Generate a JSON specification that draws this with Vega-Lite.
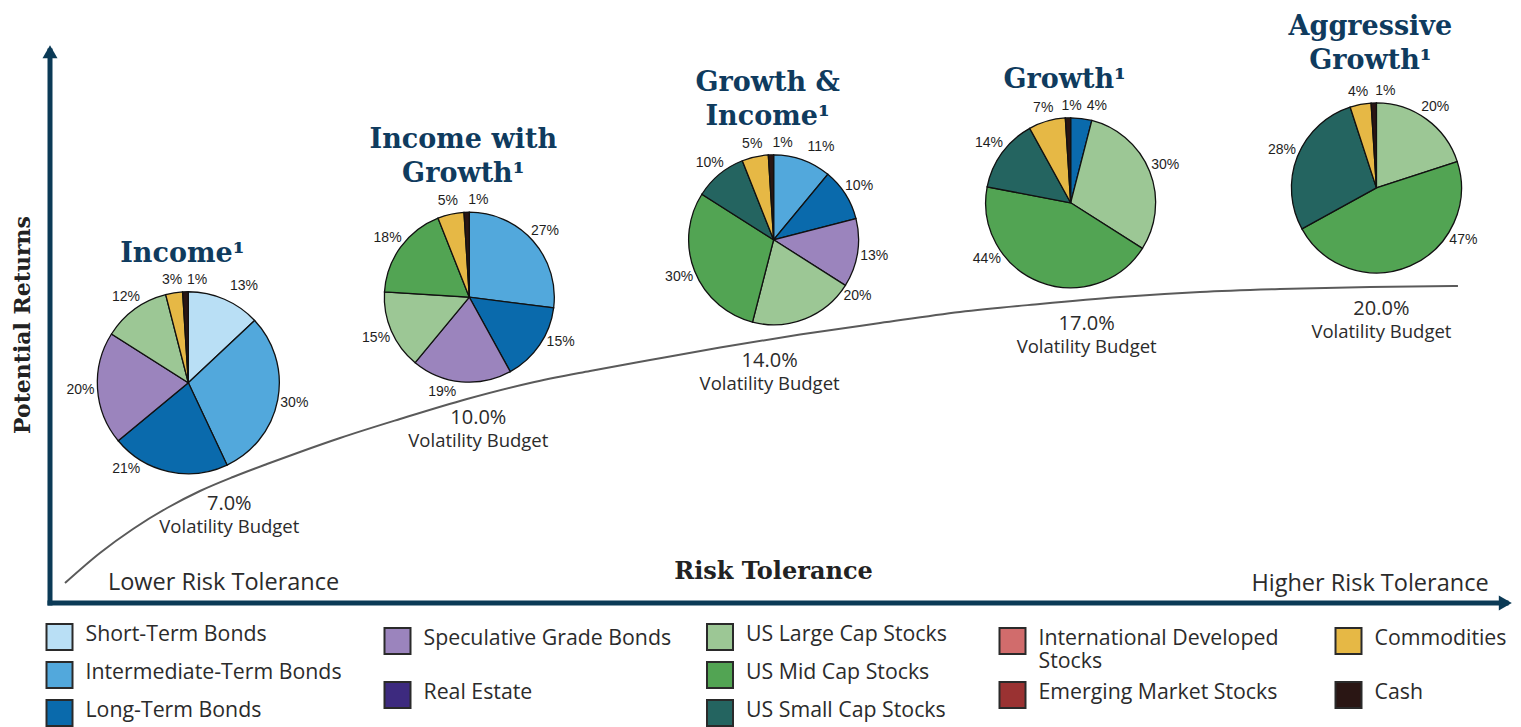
{
  "$schema": "https://vega.github.io/schema/vega-lite/v6.json",
  "width": 1521,
  "height": 727,
  "autosize": {"type": "none"},
  "padding": 0,
  "background": "#ffffff",
  "config": {"view": {"stroke": null}, "axis": {"disable": true}, "legend": {"disable": true}},
  "datasets": {
    "portfolios": [
      {"portfolio": "Income", "t1": "", "t2": "Income¹", "vol": 0.07, "risk": 9.5, "ret": 39.9},
      {"portfolio": "Income with Growth", "t1": "Income with", "t2": "Growth¹", "vol": 0.10, "risk": 28.8, "ret": 55.4},
      {"portfolio": "Growth & Income", "t1": "Growth &", "t2": "Income¹", "vol": 0.14, "risk": 49.7, "ret": 65.8},
      {"portfolio": "Growth", "t1": "", "t2": "Growth¹", "vol": 0.17, "risk": 70.1, "ret": 72.5},
      {"portfolio": "Aggressive Growth", "t1": "Aggressive", "t2": "Growth¹", "vol": 0.20, "risk": 91.1, "ret": 75.2}
    ],
    "assets": [
      {"asset": "Short-Term Bonds", "label": "Short-Term Bonds", "order": 1, "col": 1, "slot": 1},
      {"asset": "Intermediate-Term Bonds", "label": "Intermediate-Term Bonds", "order": 2, "col": 1, "slot": 2},
      {"asset": "Long-Term Bonds", "label": "Long-Term Bonds", "order": 3, "col": 1, "slot": 3},
      {"asset": "Speculative Grade Bonds", "label": "Speculative Grade Bonds", "order": 4, "col": 2, "slot": 4},
      {"asset": "Real Estate", "label": "Real Estate", "order": 5, "col": 2, "slot": 5},
      {"asset": "US Large Cap Stocks", "label": "US Large Cap Stocks", "order": 6, "col": 3, "slot": 1},
      {"asset": "US Mid Cap Stocks", "label": "US Mid Cap Stocks", "order": 7, "col": 3, "slot": 2},
      {"asset": "US Small Cap Stocks", "label": "US Small Cap Stocks", "order": 8, "col": 3, "slot": 3},
      {"asset": "International Developed Stocks", "label": "International Developed\nStocks", "order": 9, "col": 4, "slot": 4},
      {"asset": "Emerging Market Stocks", "label": "Emerging Market Stocks", "order": 10, "col": 4, "slot": 5},
      {"asset": "Commodities", "label": "Commodities", "order": 11, "col": 5, "slot": 4},
      {"asset": "Cash", "label": "Cash", "order": 12, "col": 5, "slot": 5}
    ],
    "alloc": [
      {"portfolio": "Income", "asset": "Short-Term Bonds", "share": 0.13},
      {"portfolio": "Income", "asset": "Intermediate-Term Bonds", "share": 0.30},
      {"portfolio": "Income", "asset": "Long-Term Bonds", "share": 0.21},
      {"portfolio": "Income", "asset": "Speculative Grade Bonds", "share": 0.20},
      {"portfolio": "Income", "asset": "US Large Cap Stocks", "share": 0.12},
      {"portfolio": "Income", "asset": "Commodities", "share": 0.03},
      {"portfolio": "Income", "asset": "Cash", "share": 0.01},
      {"portfolio": "Income with Growth", "asset": "Intermediate-Term Bonds", "share": 0.27},
      {"portfolio": "Income with Growth", "asset": "Long-Term Bonds", "share": 0.15},
      {"portfolio": "Income with Growth", "asset": "Speculative Grade Bonds", "share": 0.19},
      {"portfolio": "Income with Growth", "asset": "US Large Cap Stocks", "share": 0.15},
      {"portfolio": "Income with Growth", "asset": "US Mid Cap Stocks", "share": 0.18},
      {"portfolio": "Income with Growth", "asset": "Commodities", "share": 0.05},
      {"portfolio": "Income with Growth", "asset": "Cash", "share": 0.01},
      {"portfolio": "Growth & Income", "asset": "Intermediate-Term Bonds", "share": 0.11},
      {"portfolio": "Growth & Income", "asset": "Long-Term Bonds", "share": 0.10},
      {"portfolio": "Growth & Income", "asset": "Speculative Grade Bonds", "share": 0.13},
      {"portfolio": "Growth & Income", "asset": "US Large Cap Stocks", "share": 0.20},
      {"portfolio": "Growth & Income", "asset": "US Mid Cap Stocks", "share": 0.30},
      {"portfolio": "Growth & Income", "asset": "US Small Cap Stocks", "share": 0.10},
      {"portfolio": "Growth & Income", "asset": "Commodities", "share": 0.05},
      {"portfolio": "Growth & Income", "asset": "Cash", "share": 0.01},
      {"portfolio": "Growth", "asset": "Long-Term Bonds", "share": 0.04},
      {"portfolio": "Growth", "asset": "US Large Cap Stocks", "share": 0.30},
      {"portfolio": "Growth", "asset": "US Mid Cap Stocks", "share": 0.44},
      {"portfolio": "Growth", "asset": "US Small Cap Stocks", "share": 0.14},
      {"portfolio": "Growth", "asset": "Commodities", "share": 0.07},
      {"portfolio": "Growth", "asset": "Cash", "share": 0.01},
      {"portfolio": "Aggressive Growth", "asset": "US Large Cap Stocks", "share": 0.20},
      {"portfolio": "Aggressive Growth", "asset": "US Mid Cap Stocks", "share": 0.47},
      {"portfolio": "Aggressive Growth", "asset": "US Small Cap Stocks", "share": 0.28},
      {"portfolio": "Aggressive Growth", "asset": "Commodities", "share": 0.04},
      {"portfolio": "Aggressive Growth", "asset": "Cash", "share": 0.01}
    ],
    "curve": [
      {"risk": 1.03, "ret": 3.62}, {"risk": 3.43, "ret": 9.06}, {"risk": 5.70, "ret": 13.41},
      {"risk": 8.04, "ret": 17.21}, {"risk": 10.30, "ret": 20.29}, {"risk": 12.57, "ret": 22.83},
      {"risk": 14.90, "ret": 25.18}, {"risk": 17.17, "ret": 27.36}, {"risk": 19.92, "ret": 29.89},
      {"risk": 24.04, "ret": 33.33}, {"risk": 28.64, "ret": 36.96}, {"risk": 32.97, "ret": 39.86},
      {"risk": 37.09, "ret": 42.03}, {"risk": 41.21, "ret": 44.02}, {"risk": 46.02, "ret": 46.29},
      {"risk": 51.51, "ret": 48.64}, {"risk": 57.01, "ret": 50.72}, {"risk": 62.50, "ret": 52.72},
      {"risk": 67.99, "ret": 54.17}, {"risk": 73.49, "ret": 55.43}, {"risk": 78.98, "ret": 56.34},
      {"risk": 84.48, "ret": 56.88}, {"risk": 90.66, "ret": 57.25}, {"risk": 96.70, "ret": 57.43}
    ]
  },
  "layer": [
    {
      "layer": [
        {
          "data": {"name": "curve"},
          "mark": {"type": "line", "interpolate": "monotone", "color": "#5a5a5a", "strokeWidth": 2},
          "encoding": {
            "x": {"field": "risk", "type": "quantitative", "scale": {"domain": [0, 100], "range": [50, 1506], "nice": false, "zero": false}, "axis": null},
            "y": {"field": "ret", "type": "quantitative", "scale": {"domain": [0, 100], "range": [603, 51], "nice": false, "zero": false}, "axis": null}
          }
        },
        {
          "data": {"values": [{}]},
          "mark": {"type": "rule", "color": "#0b3a56", "strokeWidth": 5, "strokeCap": "square"},
          "encoding": {
            "x": {"datum": 0, "type": "quantitative", "scale": {"domain": [0, 100], "range": [50, 1506], "nice": false, "zero": false}, "axis": null},
            "y": {"datum": 0, "type": "quantitative", "scale": {"domain": [0, 100], "range": [603, 51], "nice": false, "zero": false}, "axis": null},
            "y2": {"datum": 100}
          }
        },
        {
          "data": {"values": [{}]},
          "mark": {"type": "rule", "color": "#0b3a56", "strokeWidth": 5, "strokeCap": "square"},
          "encoding": {
            "x": {"datum": 0, "type": "quantitative", "scale": {"domain": [0, 100], "range": [50, 1506], "nice": false, "zero": false}, "axis": null},
            "x2": {"datum": 100},
            "y": {"datum": 0, "type": "quantitative", "scale": {"domain": [0, 100], "range": [603, 51], "nice": false, "zero": false}, "axis": null}
          }
        },
        {
          "data": {"values": [{}]},
          "mark": {"type": "point", "shape": "triangle-up", "size": 225, "filled": true, "opacity": 1, "color": "#0b3a56", "yOffset": 0.7},
          "encoding": {
            "x": {"datum": 0, "type": "quantitative", "scale": {"domain": [0, 100], "range": [50, 1506], "nice": false, "zero": false}, "axis": null},
            "y": {"datum": 100, "type": "quantitative", "scale": {"domain": [0, 100], "range": [603, 51], "nice": false, "zero": false}, "axis": null}
          }
        },
        {
          "data": {"values": [{}]},
          "mark": {"type": "point", "shape": "triangle-right", "size": 225, "filled": true, "opacity": 1, "color": "#0b3a56", "xOffset": -0.7},
          "encoding": {
            "x": {"datum": 100, "type": "quantitative", "scale": {"domain": [0, 100], "range": [50, 1506], "nice": false, "zero": false}, "axis": null},
            "y": {"datum": 0, "type": "quantitative", "scale": {"domain": [0, 100], "range": [603, 51], "nice": false, "zero": false}, "axis": null}
          }
        },
        {
          "data": {"name": "alloc"},
          "transform": [
            {"lookup": "portfolio", "from": {"data": {"name": "portfolios"}, "key": "portfolio", "fields": ["risk", "ret"]}},
            {"lookup": "asset", "from": {"data": {"name": "assets"}, "key": "asset", "fields": ["order"]}},
            {"stack": "share", "groupby": ["portfolio"], "sort": [{"field": "order", "order": "ascending"}], "as": ["s0", "s1"]}
          ],
          "layer": [
            {
              "mark": {"type": "arc", "outerRadius": {"expr": "datum.portfolio === 'Income' ? 91 : 85"}, "stroke": "#111111", "strokeWidth": 1.3},
              "encoding": {
                "x": {"field": "risk", "type": "quantitative", "scale": {"domain": [0, 100], "range": [50, 1506], "nice": false, "zero": false}, "axis": null},
                "y": {"field": "ret", "type": "quantitative", "scale": {"domain": [0, 100], "range": [603, 51], "nice": false, "zero": false}, "axis": null},
                "theta": {"field": "s0", "type": "quantitative", "scale": {"domain": [0, 1], "range": [0, 6.283185307179586]}, "stack": null},
                "theta2": {"field": "s1"},
                "color": {
                  "field": "asset", "type": "nominal", "legend": null,
                  "scale": {
                    "domain": ["Short-Term Bonds", "Intermediate-Term Bonds", "Long-Term Bonds", "Speculative Grade Bonds", "Real Estate", "US Large Cap Stocks", "US Mid Cap Stocks", "US Small Cap Stocks", "International Developed Stocks", "Emerging Market Stocks", "Commodities", "Cash"],
                    "range": ["#b9dff5", "#52a8dc", "#0a6aac", "#9b84bd", "#3d2a7f", "#9cc795", "#52a453", "#246460", "#d16c6c", "#9a3232", "#e6b845", "#2a1614"]
                  }
                }
              }
            },
            {
              "mark": {
                "type": "text", "font": "Liberation Sans", "fontSize": 14, "color": "#1e1e1e", "align": "center", "baseline": "middle",
                "theta": {"expr": "(datum.s0 + datum.s1) * PI + (abs((datum.s0 + datum.s1) * PI - PI) < PI / 3 ? 0.663 * sin(3 * ((datum.s0 + datum.s1) * PI - PI)) : 0)"},
                "radius": {"expr": "(datum.portfolio === 'Income' ? 91 : 85) + 12 + 5 * abs(sin((datum.s0 + datum.s1) * PI + (abs((datum.s0 + datum.s1) * PI - PI) < PI / 3 ? 0.663 * sin(3 * ((datum.s0 + datum.s1) * PI - PI)) : 0)))"},
                "dx": {"expr": "datum.asset === 'Cash' ? (datum.portfolio === 'Growth' ? 4 : 12) : (datum.s0 === 0 && datum.share < 0.15 ? 14 : 0)"}
              },
              "encoding": {
                "x": {"field": "risk", "type": "quantitative", "scale": {"domain": [0, 100], "range": [50, 1506], "nice": false, "zero": false}, "axis": null},
                "y": {"field": "ret", "type": "quantitative", "scale": {"domain": [0, 100], "range": [603, 51], "nice": false, "zero": false}, "axis": null},
                "text": {"field": "share", "type": "quantitative", "format": ".0%"}
              }
            }
          ]
        },
        {
          "data": {"name": "portfolios"},
          "layer": [
            {
              "mark": {"type": "text", "font": "DejaVu Serif", "fontWeight": "bold", "fontSize": 27, "color": "#0f3b5e", "align": "center", "baseline": "alphabetic", "dx": -6, "dy": {"expr": "datum.portfolio === 'Income' ? -121 : datum.portfolio === 'Aggressive Growth' ? -119 : -115"}},
              "encoding": {
                "x": {"field": "risk", "type": "quantitative", "scale": {"domain": [0, 100], "range": [50, 1506], "nice": false, "zero": false}, "axis": null},
                "y": {"field": "ret", "type": "quantitative", "scale": {"domain": [0, 100], "range": [603, 51], "nice": false, "zero": false}, "axis": null},
                "text": {"field": "t2", "type": "nominal"}
              }
            },
            {
              "mark": {"type": "text", "font": "DejaVu Serif", "fontWeight": "bold", "fontSize": 27, "color": "#0f3b5e", "align": "center", "baseline": "alphabetic", "dx": -6, "dy": {"expr": "datum.portfolio === 'Aggressive Growth' ? -153 : -149"}},
              "encoding": {
                "x": {"field": "risk", "type": "quantitative", "scale": {"domain": [0, 100], "range": [50, 1506], "nice": false, "zero": false}, "axis": null},
                "y": {"field": "ret", "type": "quantitative", "scale": {"domain": [0, 100], "range": [603, 51], "nice": false, "zero": false}, "axis": null},
                "text": {"field": "t1", "type": "nominal"}
              }
            },
            {
              "mark": {"type": "text", "font": "Open Sans", "fontSize": 20, "color": "#2b2b2b", "align": "center", "baseline": "middle", "dx": {"expr": "[41, 9, -4, 16, 5][indexof(['Income', 'Income with Growth', 'Growth & Income', 'Growth', 'Aggressive Growth'], datum.portfolio)]"}, "dy": 121},
              "encoding": {
                "x": {"field": "risk", "type": "quantitative", "scale": {"domain": [0, 100], "range": [50, 1506], "nice": false, "zero": false}, "axis": null},
                "y": {"field": "ret", "type": "quantitative", "scale": {"domain": [0, 100], "range": [603, 51], "nice": false, "zero": false}, "axis": null},
                "text": {"field": "vol", "type": "quantitative", "format": ".1%"}
              }
            },
            {
              "mark": {"type": "text", "text": "Volatility Budget", "font": "Open Sans", "fontSize": 18.5, "color": "#2b2b2b", "align": "center", "baseline": "middle", "dx": {"expr": "[41, 9, -4, 16, 5][indexof(['Income', 'Income with Growth', 'Growth & Income', 'Growth', 'Aggressive Growth'], datum.portfolio)]"}, "dy": 144},
              "encoding": {
                "x": {"field": "risk", "type": "quantitative", "scale": {"domain": [0, 100], "range": [50, 1506], "nice": false, "zero": false}, "axis": null},
                "y": {"field": "ret", "type": "quantitative", "scale": {"domain": [0, 100], "range": [603, 51], "nice": false, "zero": false}, "axis": null}
              }
            }
          ]
        },
        {
          "data": {"values": [{}]},
          "mark": {"type": "text", "text": "Potential Returns", "font": "DejaVu Serif", "fontWeight": "bold", "fontSize": 22, "color": "#222222", "angle": 270, "align": "center", "baseline": "middle"},
          "encoding": {
            "x": {"datum": -1.85, "type": "quantitative", "scale": {"domain": [0, 100], "range": [50, 1506], "nice": false, "zero": false}, "axis": null},
            "y": {"datum": 50.36, "type": "quantitative", "scale": {"domain": [0, 100], "range": [603, 51], "nice": false, "zero": false}, "axis": null}
          }
        },
        {
          "data": {"values": [{}]},
          "mark": {"type": "text", "text": "Risk Tolerance", "font": "DejaVu Serif", "fontWeight": "bold", "fontSize": 24, "color": "#222222", "align": "center", "baseline": "middle"},
          "encoding": {
            "x": {"datum": 49.69, "type": "quantitative", "scale": {"domain": [0, 100], "range": [50, 1506], "nice": false, "zero": false}, "axis": null},
            "y": {"datum": 5.62, "type": "quantitative", "scale": {"domain": [0, 100], "range": [603, 51], "nice": false, "zero": false}, "axis": null}
          }
        },
        {
          "data": {"values": [{}]},
          "mark": {"type": "text", "text": "Lower Risk Tolerance", "font": "Open Sans", "fontSize": 23.5, "color": "#2b2b2b", "align": "center", "baseline": "middle"},
          "encoding": {
            "x": {"datum": 11.92, "type": "quantitative", "scale": {"domain": [0, 100], "range": [50, 1506], "nice": false, "zero": false}, "axis": null},
            "y": {"datum": 3.62, "type": "quantitative", "scale": {"domain": [0, 100], "range": [603, 51], "nice": false, "zero": false}, "axis": null}
          }
        },
        {
          "data": {"values": [{}]},
          "mark": {"type": "text", "text": "Higher Risk Tolerance", "font": "Open Sans", "fontSize": 23.5, "color": "#2b2b2b", "align": "center", "baseline": "middle"},
          "encoding": {
            "x": {"datum": 90.66, "type": "quantitative", "scale": {"domain": [0, 100], "range": [50, 1506], "nice": false, "zero": false}, "axis": null},
            "y": {"datum": 3.53, "type": "quantitative", "scale": {"domain": [0, 100], "range": [603, 51], "nice": false, "zero": false}, "axis": null}
          }
        }
      ]
    },
    {
      "data": {"name": "assets"},
      "layer": [
        {
          "mark": {"type": "point", "shape": "square", "size": 676, "filled": true, "opacity": 1, "stroke": "#2a2a2a", "strokeWidth": 2},
          "encoding": {
            "x": {"field": "col", "type": "quantitative", "scale": {"domain": [1, 2, 3, 4, 5], "range": [59.5, 397.5, 720, 1012.5, 1348.5], "nice": false, "zero": false}, "axis": null},
            "y": {"field": "slot", "type": "quantitative", "scale": {"domain": [1, 2, 3, 4, 5], "range": [637, 675, 713, 641, 695], "nice": false, "zero": false}, "axis": null},
            "color": {
              "field": "asset", "type": "nominal", "legend": null,
              "scale": {
                "domain": ["Short-Term Bonds", "Intermediate-Term Bonds", "Long-Term Bonds", "Speculative Grade Bonds", "Real Estate", "US Large Cap Stocks", "US Mid Cap Stocks", "US Small Cap Stocks", "International Developed Stocks", "Emerging Market Stocks", "Commodities", "Cash"],
                "range": ["#b9dff5", "#52a8dc", "#0a6aac", "#9b84bd", "#3d2a7f", "#9cc795", "#52a453", "#246460", "#d16c6c", "#9a3232", "#e6b845", "#2a1614"]
              }
            }
          }
        },
        {
          "mark": {"type": "text", "font": "Open Sans", "fontSize": 21.3, "color": "#2b2b2b", "align": "left", "baseline": "middle", "dx": 26, "dy": -2, "lineBreak": "\n", "lineHeight": 23},
          "encoding": {
            "x": {"field": "col", "type": "quantitative", "scale": {"domain": [1, 2, 3, 4, 5], "range": [59.5, 397.5, 720, 1012.5, 1348.5], "nice": false, "zero": false}, "axis": null},
            "y": {"field": "slot", "type": "quantitative", "scale": {"domain": [1, 2, 3, 4, 5], "range": [637, 675, 713, 641, 695], "nice": false, "zero": false}, "axis": null},
            "text": {"field": "label", "type": "nominal"}
          }
        }
      ]
    }
  ],
  "resolve": {"scale": {"x": "independent", "y": "independent"}}
}
